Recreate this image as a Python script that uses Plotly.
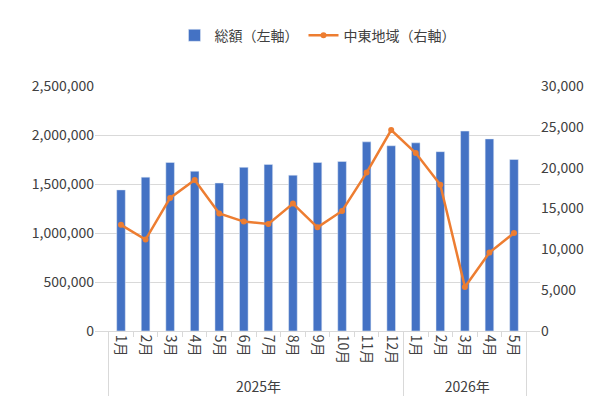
import plotly.graph_objects as go

years = ["2025年"] * 12 + ["2026年"] * 5
months = [f"{m}月" for m in range(1, 13)] + [f"{m}月" for m in range(1, 6)]
total = [1440000, 1570000, 1720000, 1630000, 1510000, 1670000, 1700000, 1590000, 1720000,
         1730000, 1930000, 1890000, 1920000, 1830000, 2040000, 1960000, 1750000]
middle_east = [13000, 11200, 16300, 18500, 14400, 13400, 13100, 15600, 12700,
               14700, 19400, 24600, 21800, 17900, 5400, 9600, 12000]

x = [years, months]
font = dict(family="Noto Sans CJK JP", size=14, color="#404040")

fig = go.Figure()
fig.add_trace(go.Bar(x=x, y=total, name="総額（左軸）", marker_color="#4472C4", width=0.35))
fig.add_trace(go.Scatter(x=x, y=middle_east, name="中東地域（右軸）", yaxis="y2",
                         mode="lines+markers", line=dict(color="#ED7D31", width=2.5),
                         marker=dict(size=6, color="#ED7D31")))
fig.update_layout(
    width=599, height=415, margin=dict(l=87, r=67, t=40, b=92),
    paper_bgcolor="white", plot_bgcolor="white", font=font, bargap=0.5,
    legend=dict(orientation="h", x=0.5, xanchor="center", y=1.14, yanchor="bottom", font=font),
    xaxis=dict(tickangle=90, showline=True, linecolor="#d9d9d9", dividercolor="#d9d9d9",
               ticks="outside", tickcolor="#d9d9d9", automargin=False),
    yaxis=dict(range=[0, 2500000], dtick=500000, tickformat=",", gridcolor="#d9d9d9",
               automargin=False),
    yaxis2=dict(range=[0, 30000], dtick=5000, tickformat=",", overlaying="y", side="right",
                showgrid=False, automargin=False),
)
fig.write_html("out.html")
